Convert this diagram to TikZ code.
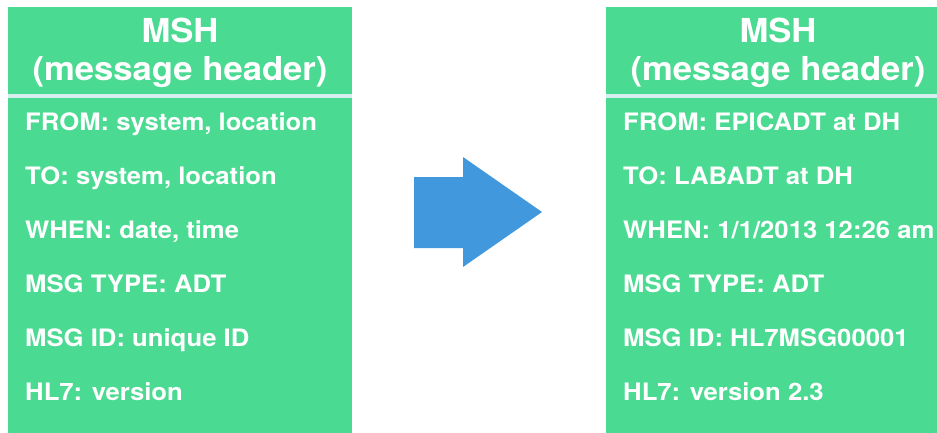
\documentclass[tikz,border=0pt]{standalone}
\usepackage{fontspec}
\setmainfont{TeX Gyre Heros}
\usepackage{xcolor}
\usepackage{tikz}
\usetikzlibrary{calc,positioning}
\definecolor{mshgreen}{RGB}{74,218,145}
\definecolor{arrowblue}{RGB}{66,152,220}
\definecolor{seprule}{RGB}{214,238,240}
\tikzset{
  hdrbox/.style={fill=mshgreen,draw=none,minimum width=344pt,minimum height=440pt,anchor=north west,inner sep=0pt},
  titel/.style={font=\fontsize{33}{40}\selectfont\bfseries,text=white,anchor=base,inner sep=0pt,xscale=1.05,transform shape},
  fld/.style={font=\fontsize{24}{30}\selectfont\bfseries,text=white,anchor=base west,inner sep=0pt,xscale=1.07,transform shape},
  seplinea/.style={draw=seprule,line width=3.5pt}
}

\begin{document}
\begin{tikzpicture}[x=1pt,y=-1pt]
\useasboundingbox (0,0) rectangle (937,432);
\clip (0,0) rectangle (937,432);
% plantilla del encabezado
\node[hdrbox] (plantilla) at (8,7) {};
\node[titel] (plmsh) at (180,42) {MSH};
\node[titel] (plhdr) at (180,80) {(message header)};
\draw[seplinea] (plantilla.north west |- 0,96) -- (plantilla.north east |- 0,96);
\foreach \txt [count=\i from 0] in {{FROM: system, location},{TO: system, location},{WHEN: date, time},{MSG TYPE: ADT},{MSG ID: unique ID},{HL7: version}}{
  \node[fld] (plf\i) at (25,130+54*\i) {\txt};
}
% encabezado con valores
\node[hdrbox] (valores) at (606,7) {};
\node[titel] (vamsh) at (778,42) {MSH};
\node[titel] (vahdr) at (778,80) {(message header)};
\draw[seplinea] (valores.north west |- 0,96) -- (valores.north east |- 0,96);
\foreach \txt [count=\i from 0] in {{FROM: EPICADT at DH},{TO: LABADT at DH},{WHEN: 1/1/2013 12:26 am},{MSG TYPE: ADT},{MSG ID: HL7MSG00001},{HL7: version 2.3}}{
  \node[fld] (vaf\i) at (623,130+54*\i) {\txt};
}
% flecha
\fill[arrowblue] (414,177) -- (463,177) -- (463,157) -- (542,212) -- (463,267) -- (463,248) -- (414,248) -- cycle;
\end{tikzpicture}
\end{document}
